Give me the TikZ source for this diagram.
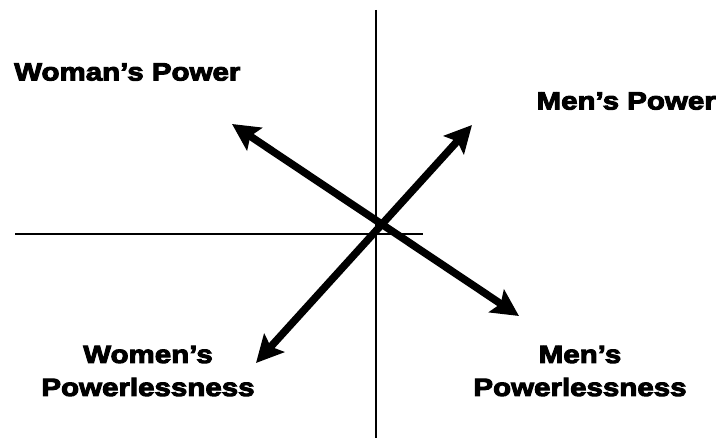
\documentclass[tikz,border=0pt]{standalone}
\usepackage{fontspec}
\newfontfamily\heavyfont[FakeBold=4,FakeStretch=1.18]{Liberation Sans Bold}
\usetikzlibrary{arrows.meta}
\tikzset{axis/.style={line width=1.5pt,black},arr/.style={{Stealth[length=27pt,width=27pt,inset=5pt]}-{Stealth[length=27pt,width=27pt,inset=5pt]},line width=7.5pt,black},lbl/.style={font=\heavyfont\fontsize{25}{33}\selectfont,align=center,inner sep=0pt}}

\begin{document}
\begin{tikzpicture}[x=1pt,y=-1pt]
\useasboundingbox (0,0) rectangle (725,441);
\coordinate (top) at (376,10); \coordinate (bottom) at (376,438);
\coordinate (left) at (15,234); \coordinate (right) at (423,234);
\draw[axis] (top)--(bottom); \draw[axis] (left)--(right);
\coordinate (wpow) at (232,124); \coordinate (mless) at (519,316);
\coordinate (wless) at (256,363); \coordinate (mpow) at (472,125);
\draw[arr] (wpow)--(mless); \draw[arr] (wless)--(mpow);
\node[lbl,anchor=west] (womanpower) at (14,72) {Woman’s Power};
\node[lbl,anchor=east] (menpower) at (716,101) {Men’s Power};
\node[lbl] (womenpowerless) at (148,371) {Women’s\\Powerlessness};
\node[lbl] (menpowerless) at (580,371) {Men’s\\Powerlessness};
\end{tikzpicture}
\end{document}
